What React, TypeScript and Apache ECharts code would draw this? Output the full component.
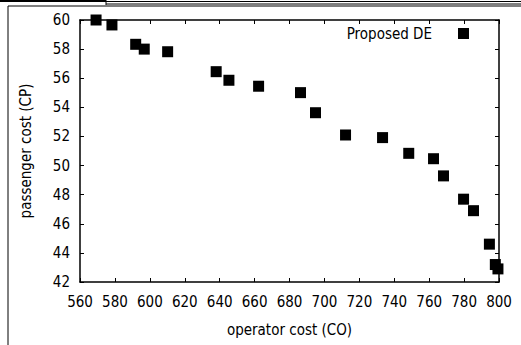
import React, { useEffect, useRef } from "react";
import * as echarts from "echarts";

const operatorCost = [569.2, 578.3, 591.9, 596.8, 610.2, 638.0, 645.3, 662.3, 686.3, 694.9, 712.1, 733.3, 748.3, 762.5, 768.2, 779.7, 785.4, 794.5, 797.9, 799.4];
const passengerCost = [60.0, 59.66, 58.33, 58.0, 57.82, 56.45, 55.86, 55.45, 55.01, 53.63, 52.1, 51.92, 50.84, 50.47, 49.29, 47.69, 46.9, 44.6, 43.2, 42.9];
const seriesName = "Proposed DE";
const xName = "operator cost (CO)";
const yName = "passenger cost (CP)";

const FONT = "'DejaVu Sans Condensed', 'DejaVu Sans', sans-serif";
const FS = 15;

export default function App() {
  const ref = useRef<HTMLDivElement>(null);
  useEffect(() => {
    const chart = echarts.init(ref.current!, null, { renderer: "svg" });
    const data = operatorCost.map((x, i) => [x, passengerCost[i]]);
    const axisLine = { show: true, lineStyle: { color: "#000", width: 1.5 } };
    const tick = { show: true, inside: true, length: 4, lineStyle: { color: "#000", width: 1 } };
    const label = { color: "#000", fontSize: FS, fontFamily: FONT };
    chart.setOption({
      animation: false,
      textStyle: { fontFamily: FONT },
      grid: { left: 80, right: 22, top: 20, bottom: 63, containLabel: false },
      legend: {
        data: [{ name: seriesName, icon: "rect" }],
        right: 47,
        top: 21,
        align: "right",
        itemWidth: 11,
        itemHeight: 11,
        textStyle: { color: "#000", fontSize: FS, fontFamily: FONT, padding: [0, 21, 0, 0] },
      },
      xAxis: [
        {
          type: "value", min: 560, max: 800, interval: 20,
          name: xName, nameLocation: "middle", nameGap: 40,
          nameTextStyle: { color: "#000", fontSize: FS, fontFamily: FONT },
          axisLine, axisTick: tick, axisLabel: { ...label, margin: 12 }, splitLine: { show: false },
        },
        {
          type: "value", min: 560, max: 800, interval: 20, position: "top",
          axisLine, axisTick: tick, axisLabel: { show: false }, splitLine: { show: false },
        },
      ],
      yAxis: [
        {
          type: "value", min: 42, max: 60, interval: 2,
          name: yName, nameLocation: "middle", nameGap: 47,
          nameTextStyle: { color: "#000", fontSize: FS, fontFamily: FONT },
          axisLine, axisTick: tick, axisLabel: { ...label, margin: 10 }, splitLine: { show: false },
        },
        {
          type: "value", min: 42, max: 60, interval: 2, position: "right",
          axisLine, axisTick: tick, axisLabel: { show: false }, splitLine: { show: false },
        },
      ],
      series: [
        {
          name: seriesName,
          type: "scatter",
          symbol: "rect",
          symbolSize: 11,
          itemStyle: { color: "#000", opacity: 1 },
          data,
        },
      ],
      graphic: [
        { type: "line", shape: { x1: 0, y1: 1, x2: 106, y2: 1 }, style: { stroke: "#000", lineWidth: 2 } },
        { type: "line", shape: { x1: 106, y1: 0, x2: 106, y2: 5 }, style: { stroke: "#000", lineWidth: 1 } },
        { type: "line", shape: { x1: 106, y1: 1.5, x2: 521, y2: 1.5 }, style: { stroke: "#000", lineWidth: 1 } },
        { type: "line", shape: { x1: 106, y1: 4, x2: 521, y2: 4 }, style: { stroke: "#000", lineWidth: 1 } },
        { type: "line", shape: { x1: 8, y1: 6, x2: 521, y2: 6 }, style: { stroke: "#000", lineWidth: 1 } },
        { type: "line", shape: { x1: 8, y1: 6, x2: 8, y2: 345 }, style: { stroke: "#000", lineWidth: 1 } },
      ],
    });
    return () => chart.dispose();
  }, []);
  return <div ref={ref} style={{ width: 521, height: 345, position: "absolute", left: 0, top: 0 }} />;
}
